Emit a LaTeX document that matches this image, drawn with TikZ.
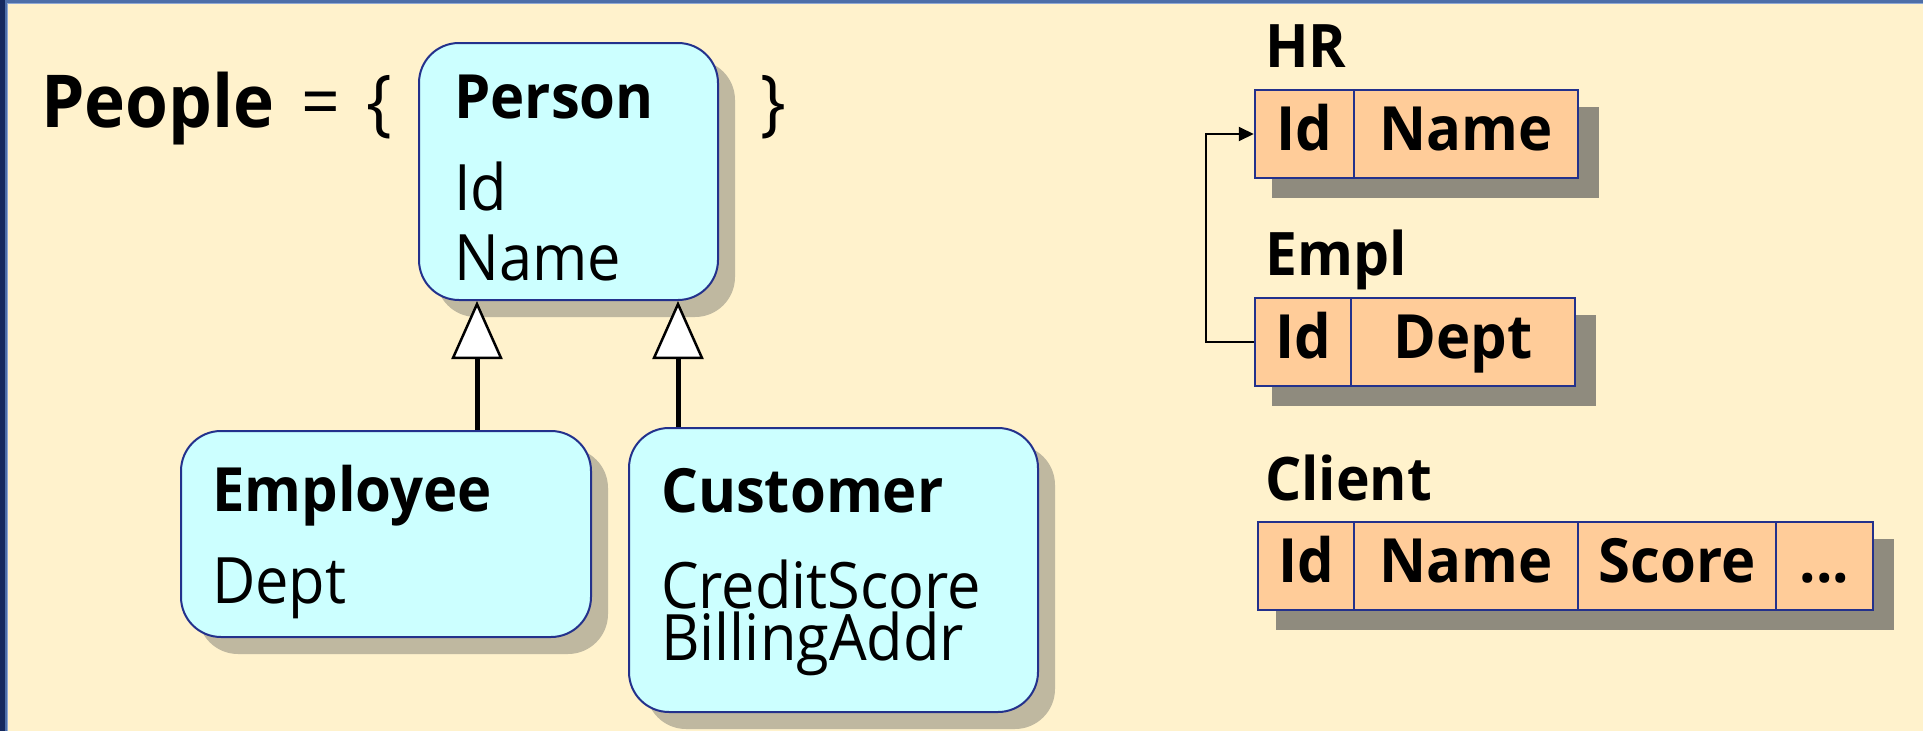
\documentclass[tikz,border=0pt]{standalone}
\usepackage{fontspec}
\setmainfont{Open Sans}[UprightFeatures={FakeStretch=0.93},BoldFeatures={FakeStretch=0.95}]
\usetikzlibrary{arrows.meta,shadows}
\definecolor{bgcream}{HTML}{FFF2CC}
\definecolor{framedark}{HTML}{15295E}
\definecolor{frameblue}{HTML}{4D6EA8}
\definecolor{framelight}{HTML}{8FA8D4}
\definecolor{navy}{HTML}{23318C}
\definecolor{classfill}{HTML}{CCFFFF}
\definecolor{classshadow}{HTML}{BFB8A0}
\definecolor{tablefill}{HTML}{FFCC99}
\definecolor{tableshadow}{HTML}{8F8B7E}
\pgfdeclarelayer{canvas}
\pgfdeclarelayer{shadowlayer}
\pgfsetlayers{canvas,shadowlayer,main}
\tikzset{
  txt/.style={inner sep=0pt, anchor=base west},
  bigbold/.style={font=\bfseries\fontsize{73}{80}\selectfont},
  bigreg/.style={font=\fontsize{73}{80}\selectfont},
  titlefont/.style={font=\bfseries\fontsize{61}{70}\selectfont},
  attrfont/.style={font=\fontsize{64}{70}\selectfont},
  labelfont/.style={font=\bfseries\fontsize{60}{70}\selectfont},
  classbox/.style={draw=navy, line width=2pt, fill=classfill, rounded corners=40pt,
    inner sep=0pt,
    drop shadow={shadow xshift=17pt, shadow yshift=-17pt, fill=classshadow, opacity=1}},
  cell/.style={draw=navy, line width=2.5pt, fill=tablefill, inner sep=0pt,
    minimum height=88pt, text height=32pt, text depth=0pt,
    font=\bfseries\fontsize{61}{70}\selectfont},
  inh/.style={line width=5pt, black,
    -{Triangle[length=58pt, width=51pt, fill=white, line width=2.5pt]}},
  fk/.style={line width=2pt, black, -{Triangle[length=15pt, width=14pt]}},
  tshadow/.style={fill=tableshadow}
}
\begin{document}
\begin{tikzpicture}[x=1pt, y=-1pt]
\useasboundingbox (0,0) rectangle (1923,731);
\begin{pgfonlayer}{canvas}
  \fill[bgcream] (0,0) rectangle (1923,731);
  \fill[frameblue] (0,0) rectangle (1923,3);
  \fill[framelight] (0,3) rectangle (1923,4);
  \fill[framedark] (0,0) rectangle (4.5,731);
  \fill[frameblue] (4.5,3) rectangle (7,731);
  \fill[framelight] (7,4) rectangle (8,731);
\end{pgfonlayer}

% set equation
\node[txt, bigbold] (people) at (41,127) {People};
\node[txt, bigreg] (eq) at (301,127) {=};
\node[txt, bigreg] (lbrace) at (366,127) {\{};
\node[txt, bigreg] (rbrace) at (760,127) {\}};

% class boxes
\node[classbox, minimum width=299pt, minimum height=257pt] (person) at (568.5,171.5) {};
\node[classbox, minimum width=410pt, minimum height=206pt] (employee) at (386,534) {};
\node[classbox, minimum width=409pt, minimum height=284pt] (customer) at (833.5,570) {};

\node[txt, titlefont] (personT) at (454,118) {Person};
\node[txt, attrfont] (personA1) at (454,210) {Id};
\node[txt, attrfont] (personA2) at (454,280) {Name};

\node[txt, titlefont] (employeeT) at (212,511) {Employee};
\node[txt, attrfont] (employeeA1) at (212,603) {Dept};

\node[txt, titlefont] (customerT) at (661,512) {Customer};
\node[txt, attrfont] (customerA1) at (661,608) {CreditScore};
\node[txt, attrfont] (customerA2) at (661,660) {BillingAddr};

% generalisation arrows
\coordinate (gx1) at (477,0);
\coordinate (gx2) at (678,0);
\draw[inh] (employee.north -| gx1) -- (person.south -| gx1);
\draw[inh] (customer.north -| gx2) -- (person.south -| gx2);

% tables
\node[txt, labelfont] (hrL) at (1265,67) {HR};
\node[cell, minimum width=99pt] (hrid) at (1304.5,134) {Id};
\node[cell, minimum width=224pt] (hrname) at (1466,134) {Name};

\node[txt, labelfont] (emplL) at (1265,275) {Empl};
\node[cell, minimum width=96pt] (emplid) at (1303,342) {Id};
\node[cell, minimum width=224pt] (empldept) at (1463,342) {Dept};

\node[txt, labelfont] (clientL) at (1265,500) {Client};
\node[cell, minimum width=96pt] (cid) at (1306,566) {Id};
\node[cell, minimum width=224pt] (cname) at (1466,566) {Name};
\node[cell, minimum width=198pt] (cscore) at (1677,566) {Score};
\node[cell, minimum width=97pt] (cmore) at (1824.5,566) {...};

\begin{pgfonlayer}{shadowlayer}
  \fill[tshadow] ([shift={(18,18)}]hrid.north west) rectangle ([shift={(20,19)}]hrname.south east);
  \fill[tshadow] ([shift={(18,18)}]emplid.north west) rectangle ([shift={(20,19)}]empldept.south east);
  \fill[tshadow] ([shift={(19,18)}]cid.north west) rectangle ([shift={(20,19)}]cmore.south east);
\end{pgfonlayer}

% foreign key link
\draw[fk] (emplid.west) -- ++(-48,0) |- (hrid.west);
\end{tikzpicture}
\end{document}
